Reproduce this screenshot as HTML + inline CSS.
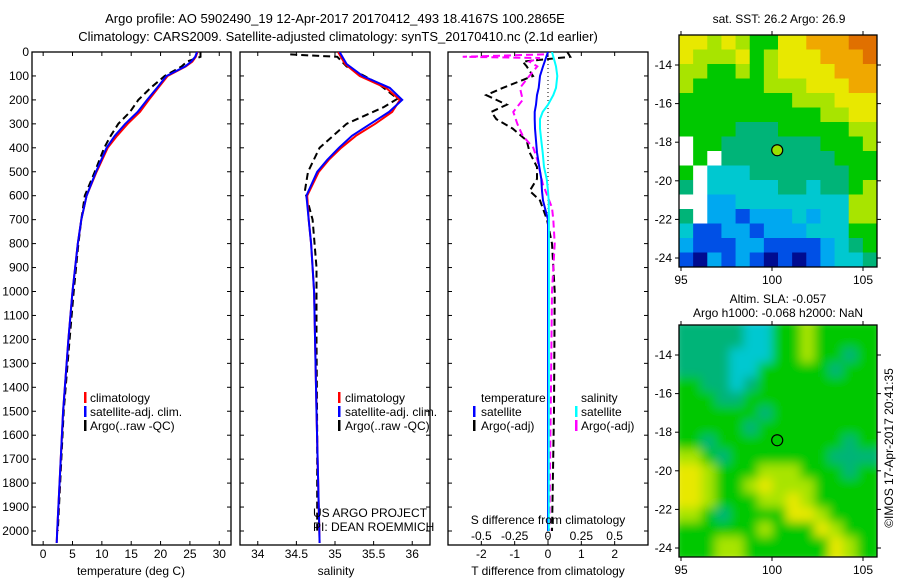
<!DOCTYPE html>
<html><head><meta charset="utf-8"><style>
body{margin:0;background:#fff;}
svg{display:block;font-family:"Liberation Sans",sans-serif;}
text{font-size:12px;fill:#000;}
</style></head><body>
<svg id="c" width="900" height="580" viewBox="0 0 900 580">
<defs>
<clipPath id="cp1"><rect x="32" y="52" width="199" height="493"/></clipPath>
<clipPath id="cp2"><rect x="240" y="52" width="190" height="493"/></clipPath>
<clipPath id="cp3"><rect x="448" y="52" width="200" height="493"/></clipPath>
<clipPath id="cpm1"><rect x="679" y="35" width="198" height="232"/></clipPath>
<clipPath id="cpm2"><rect x="679" y="325" width="198" height="232"/></clipPath>
<filter id="blur" x="-5%" y="-5%" width="110%" height="110%"><feGaussianBlur stdDeviation="5"/></filter>
</defs>
<text x="335" y="23" text-anchor="middle" style="font-size:13px">Argo profile: AO 5902490_19 12-Apr-2017 20170412_493 18.4167S 100.2865E</text>
<text x="338" y="41" text-anchor="middle" style="font-size:13px">Climatology: CARS2009. Satellite-adjusted climatology: synTS_20170410.nc (2.1d earlier)</text>
<g id="g"></g>
</svg>
<script>
// ---- data ----
const depthsT = [0,20,40,60,100,150,200,250,300,350,400,500,600,700,800,1000,1200,1500,2000,2050];
const tempClim = [26.3,26.0,25.4,24.3,21.2,19.6,18.0,16.5,14.4,12.6,11.0,9.1,7.4,6.5,5.9,5.0,4.3,3.4,2.4,2.3];
const tempSat  = [26.2,25.9,25.2,24.2,21.0,19.4,17.7,16.1,14.0,12.2,10.8,9.0,7.4,6.5,5.9,5.0,4.3,3.4,2.4,2.3];
const depthsArgo = [0,20,40,60,100,150,200,250,300,350,400,500,600,700,800,1000,1200,1500,2000];
const tempArgo = [26.8,26.8,24.5,23.6,20.7,18.3,16.2,14.8,12.8,11.5,10.4,8.8,7.1,6.5,6.0,5.2,4.5,3.5,2.5];
const depthsS = [0,50,100,150,200,250,300,350,400,450,500,600,700,800,1000,1500,2050];
const salClim = [35.04,35.13,35.32,35.66,35.84,35.74,35.52,35.27,35.08,34.92,34.79,34.64,34.66,34.69,34.73,34.76,34.80];
const salSat  = [35.06,35.15,35.36,35.71,35.87,35.70,35.46,35.22,35.05,34.90,34.77,34.63,34.66,34.69,34.73,34.76,34.80];
const depthsSA = [10,20,60,130,195,230,300,400,500,580,700,900,1200,1600,2000];
const salArgo = [34.42,35.03,35.15,35.55,35.81,35.63,35.15,34.80,34.65,34.61,34.71,34.76,34.76,34.77,34.77];
const depthsD = [0,20,40,60,100,150,180,220,250,280,320,370,420,480,530,580,620,700,800,1000,1500,2000];
const tDiffSat = [0,-0.05,-0.1,-0.15,-0.24,-0.28,-0.33,-0.36,-0.4,-0.4,-0.39,-0.36,-0.33,-0.26,-0.2,-0.18,-0.15,0,0,0,0,0];
const tDiffArgo = [0.58,0.67,-0.76,-0.64,-0.45,-1.36,-1.85,-1.24,-1.7,-1.55,-1.06,-0.64,-0.55,-0.33,-0.33,-0.55,-0.24,-0.03,0.12,0.2,0.18,0.12];
const sDiffSat = [0.03,0.04,0.05,0.06,0.07,0.06,0.04,0.0,-0.04,-0.06,-0.06,-0.05,-0.04,-0.03,-0.01,0.0,0.005,0.007,0.007,0.007,0.006,0.005];
const depthsSD = [10,20,25,40,60,100,150,200,250,300,350,400,450,500,550,650,700,800,1000,1500,2000];
const sDiffArgo = [-0.03,-0.64,-0.06,-0.14,-0.08,-0.14,-0.21,-0.19,-0.26,-0.23,-0.19,-0.11,-0.08,-0.06,-0.04,0.03,0.04,0.05,0.03,0.02,0.01];
const depthTicks = [0,100,200,300,400,500,600,700,800,900,1000,1100,1200,1300,1400,1500,1600,1700,1800,1900,2000];
const tempTicks = [0,5,10,15,20,25,30];
const salTicks = [34,34.5,35,35.5,36];
const tdTicks = [-2,-1,0,1,2];
const sdTicks = [-0.5,-0.25,0,0.25,0.5];
const sdTickLabels = ["-0.5","-0.25","0","0.25","0.5"];
const latTicks = [-14,-16,-18,-20,-22,-24];
const lonTicks = [95,100,105];
const argoLon = 100.2865, argoLat = -18.4167;
const sstGrid = [
"77676557788899","76667567778889","66556567777888","65555566677788",
"55555555666777","55555555556677","55554445555566",".5544444445556",
".5.44444444555","5.333444444455","4.333334434456","..223333333366",
"4.221222323366","31122122233355","21112211112345","10212101012334"];
const slaGrid = [
"44444335565555","44444335565555","44443335565545","44443355555455",
"55443455555555","55544555555555","55555545555555","55555455555555",
"55455555555545","66545555555444","77655566655545","77655676665555",
"77655566765555","66545555776555","55555565557655","55566555555765"];
const palette = ["#000c90","#0050e6","#00a8f0","#00c8d0","#00b478","#00c800","#a8e400","#e8e800","#f0a800","#e07000"];

// ---- helpers ----
const NS="http://www.w3.org/2000/svg";
const G=document.getElementById('g');
function mk(tag,attrs,parent){const e=document.createElementNS(NS,tag);for(const k in attrs)e.setAttribute(k,attrs[k]);(parent||G).appendChild(e);return e;}
function txt(x,y,s,anchor,parent){const t=mk('text',{x:x,y:y,'text-anchor':anchor||'start'},parent);t.textContent=s;return t;}
const yD=d=>52+d*0.2395;
const xT=v=>32+(v+1.9)*199/33.9;
const xS=v=>240+(v-33.77)*190/2.46;
const xTD=v=>548+v*33.33;
const xSD=v=>548+v*133.3;
const mx=lon=>681+(lon-95)*18.2;
const my1=lat=>65+(-14-lat)*19.3;
const my2=lat=>355+(-14-lat)*19.3;

function line(xs,ds,fx,color,dash,w,clip,name){
  const pts=xs.map((v,i)=>fx(v).toFixed(1)+','+yD(ds[i]).toFixed(1)).join(' ');
  const p=mk('polyline',{points:pts,fill:'none',stroke:color,'stroke-width':w||2,'clip-path':'url(#'+clip+')'});
  if(dash)p.setAttribute('stroke-dasharray',dash);
  
  
}
function frame(x,y,w,h,name){
  const r=mk('rect',{x:x,y:y,width:w,height:h,fill:'none',stroke:'#000','stroke-width':1.3});
  
  
}
function legendBar(x,y,color,name){
  const r=mk('rect',{x:x,y:y-10,width:2.5,height:11,fill:color});
  
  
}

// ---- panel 1 temperature ----
frame(32,52,199,493,'temperature-panel');
depthTicks.forEach(d=>{
  mk('line',{x1:32,x2:36,y1:yD(d),y2:yD(d),stroke:'#000'});
  mk('line',{x1:227,x2:231,y1:yD(d),y2:yD(d),stroke:'#000'});
  mk('line',{x1:240,x2:244,y1:yD(d),y2:yD(d),stroke:'#000'});
  mk('line',{x1:426,x2:430,y1:yD(d),y2:yD(d),stroke:'#000'});
  mk('line',{x1:448,x2:452,y1:yD(d),y2:yD(d),stroke:'#000'});
  mk('line',{x1:644,x2:648,y1:yD(d),y2:yD(d),stroke:'#000'});
  const t=txt(29,yD(d)+4,String(d),'end');
  
  
});
tempTicks.forEach(v=>{
  mk('line',{x1:xT(v),x2:xT(v),y1:52,y2:56,stroke:'#000'});
  mk('line',{x1:xT(v),x2:xT(v),y1:541,y2:545,stroke:'#000'});
  txt(xT(v),558,String(v),'middle');
});
line(tempArgo,depthsArgo,xT,'#000','7,4',2,'cp1','temperature-argo-line');
line(tempClim,depthsT,xT,'#f00',null,2,'cp1','temperature-climatology-line');
line(tempSat,depthsT,xT,'#00f',null,2,'cp1','temperature-satellite-line');
txt(131,575,'temperature (deg C)','middle');
legendBar(84,402,'#f00','legend-climatology-marker');txt(90,402,'climatology');
legendBar(84,416,'#00f','legend-satellite-marker');txt(90,416,'satellite-adj. clim.');
legendBar(84,430,'#000','legend-argo-marker');txt(90,430,'Argo(..raw -QC)');

// ---- panel 2 salinity ----
frame(240,52,190,493,'salinity-panel');
salTicks.forEach(v=>{
  mk('line',{x1:xS(v),x2:xS(v),y1:52,y2:56,stroke:'#000'});
  mk('line',{x1:xS(v),x2:xS(v),y1:541,y2:545,stroke:'#000'});
  txt(xS(v),558,String(v),'middle');
});
line(salArgo,depthsSA,xS,'#000','7,4',2,'cp2','salinity-argo-line');
line(salClim,depthsS,xS,'#f00',null,2,'cp2','salinity-climatology-line');
line(salSat,depthsS,xS,'#00f',null,2,'cp2','salinity-satellite-line');
txt(336,575,'salinity','middle');
legendBar(338,402,'#f00','legend2-climatology-marker');txt(345,402,'climatology');
legendBar(338,416,'#00f','legend2-satellite-marker');txt(345,416,'satellite-adj. clim.');
legendBar(338,430,'#000','legend2-argo-marker');txt(345,430,'Argo(..raw -QC)');
txt(313,517,'US ARGO PROJECT');
txt(313,531,'PI: DEAN ROEMMICH');

// ---- panel 3 differences ----
frame(448,52,200,493,'difference-panel');
tdTicks.forEach(v=>{
  mk('line',{x1:xTD(v),x2:xTD(v),y1:52,y2:56,stroke:'#000'});
  mk('line',{x1:xTD(v),x2:xTD(v),y1:541,y2:545,stroke:'#000'});
  txt(xTD(v),558,String(v),'middle');
});
sdTicks.forEach((v,i)=>txt(xSD(v),540,sdTickLabels[i],'middle'));
mk('line',{x1:548,x2:548,y1:52,y2:545,stroke:'#000','stroke-dasharray':'1,3'});
line(tDiffArgo,depthsD,xTD,'#000','7,4',2,'cp3','tdiff-argo-line');
line(sDiffArgo,depthsSD,xSD,'#f0f','7,4',2,'cp3','sdiff-argo-line');
line(tDiffSat,depthsD,xTD,'#00f',null,2,'cp3','tdiff-satellite-line');
line(sDiffSat,depthsD,xSD,'#0ff',null,2,'cp3','sdiff-satellite-line');
txt(548,524,'S difference from climatology','middle');
txt(548,575,'T difference from climatology','middle');
txt(481,402,'temperature');txt(581,402,'salinity');
legendBar(473,416,'#00f','legend3-tsat-marker');txt(481,416,'satellite');
legendBar(575,416,'#0ff','legend3-ssat-marker');txt(581,416,'satellite');
legendBar(473,430,'#000','legend3-targo-marker');txt(481,430,'Argo(-adj)');
legendBar(575,430,'#f0f','legend3-sargo-marker');txt(581,430,'Argo(-adj)');

// ---- maps ----
function drawMap(grid,top,bottom,my,clip,blur,name){
  const g=mk('g',{'clip-path':'url(#'+clip+')'});
  
  
  const inner=mk('g',blur?{filter:'url(#blur)'}:{},g);
  const rows=grid.length, cols=grid[0].length;
  const x0=679,w=198, cw=w/cols, ch=(bottom-top)/rows;
  grid.forEach((row,r)=>{
    for(let c=0;c<cols;c++){
      const ch_=row[c];
      const fill=ch_==='.'?'#fff':palette[+ch_];
      const cell=mk('rect',{x:x0+c*cw-(blur?6:0),y:top+r*ch-(blur?6:0),width:cw+(blur?12:0.5),height:ch+(blur?12:0.5),fill:fill},inner);
      
    }
  });
  frame(679,top,198,bottom-top,name+'-frame');
  latTicks.forEach(l=>{
    const y=my(l);
    mk('line',{x1:675,x2:679,y1:y,y2:y,stroke:'#000'});
    mk('line',{x1:877,x2:881,y1:y,y2:y,stroke:'#000'});
    txt(672,y+4,String(l),'end');
  });
  lonTicks.forEach(l=>{
    mk('line',{x1:mx(l),x2:mx(l),y1:top-4,y2:top,stroke:'#000'});
    mk('line',{x1:mx(l),x2:mx(l),y1:bottom,y2:bottom+4,stroke:'#000'});
    txt(mx(l),bottom+17,String(l),'middle');
  });
  const m=mk('circle',{cx:mx(argoLon),cy:my(argoLat),r:5.5,fill:blur?'none':'#9be000',stroke:'#000','stroke-width':1.2});
  
  
}
drawMap(sstGrid,35,267,my1,'cpm1',false,'sst-map');
drawMap(slaGrid,325,557,my2,'cpm2',true,'sla-map');
txt(779,23,'sat. SST: 26.2 Argo: 26.9','middle');
txt(778,303,'Altim. SLA: -0.057','middle');
txt(778,317,'Argo h1000: -0.068 h2000: NaN','middle');
const cr=txt(0,0,'©IMOS 17-Apr-2017 20:41:35','middle');
cr.setAttribute('transform','translate(893,448) rotate(-90)');


</script>
</body></html>
